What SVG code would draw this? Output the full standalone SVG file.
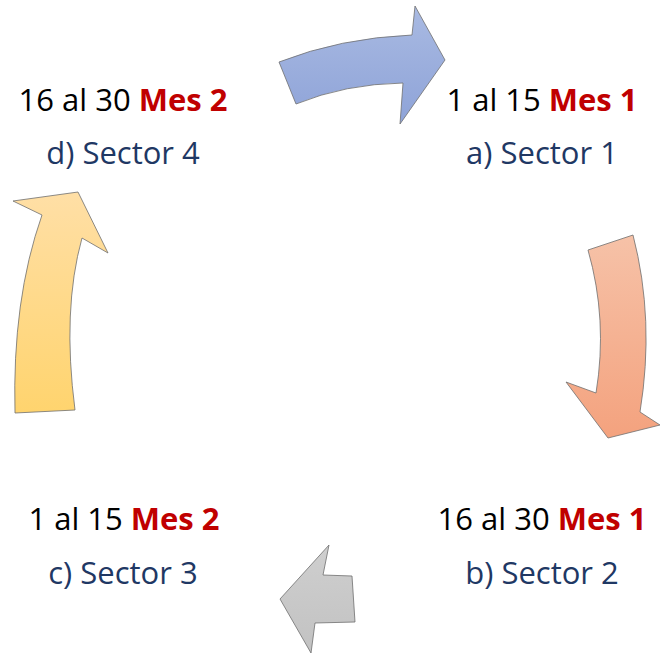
<svg xmlns="http://www.w3.org/2000/svg" width="661" height="654" viewBox="0 0 661 654">
<style>
.t{font-family:"Open Sans","Noto Sans","Liberation Sans",sans-serif;font-size:31px;text-anchor:middle}
.d{fill:#000}
.m{fill:#C00000;font-weight:bold}
.s{fill:#1F3864}
.a{stroke:#6E6E6E;stroke-width:0.8;stroke-linejoin:miter}
</style>
<defs>
<linearGradient id="gb" x1="0" y1="0" x2="0" y2="1"><stop offset="0" stop-color="#A9BAE2"/><stop offset="1" stop-color="#8EA3D8"/></linearGradient>
<linearGradient id="gs" x1="0" y1="0" x2="0" y2="1"><stop offset="0" stop-color="#F6C2A8"/><stop offset="1" stop-color="#F4A27E"/></linearGradient>
<linearGradient id="gy" x1="0" y1="0" x2="0" y2="1"><stop offset="0" stop-color="#FFDFA6"/><stop offset="1" stop-color="#FFD46E"/></linearGradient>
<linearGradient id="gg" x1="0" y1="0" x2="0" y2="1"><stop offset="0" stop-color="#CFCFCF"/><stop offset="1" stop-color="#C2C2C2"/></linearGradient>
</defs>
<g id="connectors">
<path class="a" fill="url(#gb)" d="M279,62 Q340,38 412,35 L415,6 L445,60 L400,124 L403,83 Q345,84 296,104 Z"/>
<path class="a" fill="url(#gs)" d="M588,250 Q608,320 596,393 L566,382 L608,438 L660,425 L640,412 Q655,320 633,235 Z"/>
<path class="a" fill="url(#gg)" d="M280,599 L329,545 L323,575 L352,576 L355,622 L315,623 L311,653 Z"/>
<path class="a" fill="url(#gy)" d="M78,192 L13,201 L42,215 Q12,300 15,413 L75,410 Q62,310 82,238 L108,253 Z"/>
</g>
<g id="node-a">
<text class="t" x="542" y="111"><tspan class="d">1 al 15 </tspan><tspan class="m">Mes 1</tspan></text>
<text class="t s" x="542" y="164">a) Sector 1</text>
</g>
<g id="node-b">
<text class="t" x="542" y="530"><tspan class="d">16 al 30 </tspan><tspan class="m">Mes 1</tspan></text>
<text class="t s" x="542" y="584">b) Sector 2</text>
</g>
<g id="node-c">
<text class="t" x="124" y="530"><tspan class="d">1 al 15 </tspan><tspan class="m">Mes 2</tspan></text>
<text class="t s" x="123" y="584">c) Sector 3</text>
</g>
<g id="node-d">
<text class="t" x="123" y="111"><tspan class="d">16 al 30 </tspan><tspan class="m">Mes 2</tspan></text>
<text class="t s" x="123" y="164">d) Sector 4</text>
</g>
</svg>
